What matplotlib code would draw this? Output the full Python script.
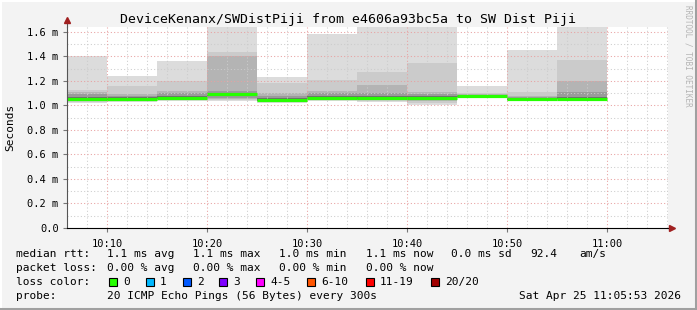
import matplotlib
matplotlib.use("Agg")
import matplotlib.pyplot as plt
from matplotlib.lines import Line2D

W, H = 697, 310

# minutes after 10:00, each block is a 5 minute step ending at the edge
block_start = [5, 10, 15, 20, 25, 30, 35, 40, 45, 50, 55]
median = [1.05, 1.05, 1.06, 1.095, 1.045, 1.06, 1.06, 1.06, 1.075, 1.05, 1.055]
# smoke layers, outer -> inner (ms)
upper = [
    [1.40, 1.13, 1.11, 1.09, 1.07],
    [1.24, 1.16, 1.09, 1.08, 1.065],
    [1.36, 1.20, 1.12, 1.10, 1.075],
    [1.64, 1.44, 1.40, 1.12, 1.105],
    [1.23, 1.18, 1.10, 1.08, 1.06],
    [1.58, 1.21, 1.12, 1.10, 1.075],
    [1.64, 1.27, 1.17, 1.10, 1.08],
    [1.64, 1.35, 1.11, 1.09, 1.075],
    [1.16, 1.10, 1.09, 1.085, 1.08],
    [1.45, 1.11, 1.08, 1.07, 1.06],
    [1.64, 1.37, 1.20, 1.11, 1.07],
]
lower = [
    [1.02, 1.03, 1.035, 1.04, 1.042],
    [1.03, 1.035, 1.04, 1.042, 1.045],
    [1.04, 1.045, 1.05, 1.052, 1.055],
    [1.04, 1.045, 1.05, 1.06, 1.075],
    [1.02, 1.03, 1.035, 1.038, 1.04],
    [1.04, 1.045, 1.05, 1.052, 1.055],
    [1.03, 1.04, 1.045, 1.048, 1.05],
    [1.00, 1.02, 1.04, 1.045, 1.05],
    [1.06, 1.062, 1.065, 1.066, 1.068],
    [1.04, 1.042, 1.044, 1.045, 1.046],
    [1.04, 1.045, 1.05, 1.051, 1.052],
]
smoke_colors = ["#dcdcdc", "#cbcbcb", "#b4b4b4", "#9a9a9a", "#6e6e6e"]

xticks = [10, 20, 30, 40, 50, 60]
xticklabels = ["10:10", "10:20", "10:30", "10:40", "10:50", "11:00"]
yticks = [0.0, 0.2, 0.4, 0.6, 0.8, 1.0, 1.2, 1.4, 1.6]

legend_rows = [
    ["median rtt:", "1.1 ms avg", "1.1 ms max", "1.0 ms min", "1.1 ms now", "0.0 ms sd", "92.4", "am/s"],
    ["packet loss:", "0.00 % avg", "0.00 % max", "0.00 % min", "0.00 % now"],
]
loss_labels = ["0", "1", "2", "3", "4-5", "6-10", "11-19", "20/20"]
loss_colors = ["#26ff00", "#00b8ff", "#0059ff", "#7e00ff", "#ff00ff", "#ff5500", "#ff0000", "#a10000"]

mono = "DejaVu Sans Mono"
bg = "#f3f3f3"

fig = plt.figure(figsize=(W / 100, H / 100), dpi=100, facecolor=bg)


def fx(px):
    return px / W


def fy(py):
    return 1 - py / H


ax = fig.add_axes([fx(67), fy(228), fx(668 - 67), (228 - 27) / H])
ax.set_facecolor("white")

for i, x0 in enumerate(block_start):
    for lo, hi, c in zip(lower[i], upper[i], smoke_colors):
        ax.fill_between([x0, x0 + 5], lo, hi, color=c, lw=0, zorder=1)
    ax.plot([x0, x0 + 5], [median[i], median[i]], color="#26ff00", lw=2.3,
            solid_capstyle="butt", zorder=4)

ax.set_xlim(6, 66.1)
ax.set_ylim(0, 1.64)

# grid like rrdtool: grey minor, reddish major, dotted, drawn over the smoke
for m in range(8, 67, 2):
    if m % 10:
        ax.axvline(m, color="#cccccc", lw=0.75, ls=(0, (1, 2.2)), zorder=2)
for v in [0.1, 0.3, 0.5, 0.7, 0.9, 1.1, 1.3, 1.5]:
    ax.axhline(v, color="#cccccc", lw=0.75, ls=(0, (1, 2.2)), zorder=2)
for m in xticks:
    ax.axvline(m, color="#e8a0a0", lw=0.75, ls=(0, (1, 2.2)), zorder=2)
for v in yticks[1:]:
    ax.axhline(v, color="#e8a0a0", lw=0.75, ls=(0, (1, 2.2)), zorder=2)

for s in ["top", "right"]:
    ax.spines[s].set_visible(False)
ax.spines["left"].set_color("#555555")
ax.spines["bottom"].set_color("black")
ax.spines["left"].set_zorder(5)
ax.spines["bottom"].set_zorder(5)

ax.set_xticks(xticks)
ax.set_xticklabels(xticklabels, fontfamily=mono, fontsize=7.5)
ax.set_yticks(yticks)
ax.set_yticklabels(["0.0" if v == 0 else f"{v:.1f} m" for v in yticks],
                   fontfamily=mono, fontsize=7.5)
ax.tick_params(axis="both", length=3, width=0.8, color="#777777", pad=3)
ax.tick_params(axis="x", pad=5)

# axis arrows
ax.plot([0, 0], [1.0, 1.035], transform=ax.transAxes, color="#555555", lw=0.8,
        clip_on=False, zorder=5)
ax.plot(0, 1.035, marker="^", ms=4, color="#a02020", transform=ax.transAxes,
        clip_on=False, zorder=6)
ax.plot([1.0, 1.007], [0, 0], transform=ax.transAxes, color="black", lw=0.8,
        clip_on=False, zorder=5)
ax.plot(1.007, 0, marker=">", ms=4, color="#a02020", transform=ax.transAxes,
        clip_on=False, zorder=6)

fig.text(fx(348), fy(19), "DeviceKenanx/SWDistPiji from e4606a93bc5a to SW Dist Piji",
         ha="center", va="center", fontfamily=mono, fontsize=9.5)
fig.text(fx(10), fy(127), "Seconds", rotation=90, ha="center", va="center",
         fontfamily=mono, fontsize=8)
fig.text(fx(688), fy(5), "RRDTOOL / TOBI OETIKER", rotation=270, ha="center", va="top",
         fontfamily=mono, fontsize=5.5, color="#b4b4b4")

col_x = [16, 107, 193, 279, 366, 451, 530, 579]
for r, row in enumerate(legend_rows):
    for j, t in enumerate(row):
        fig.text(fx(col_x[j]), fy(254 + 14 * r), t, ha="left", va="center",
                 fontfamily=mono, fontsize=8)

fig.text(fx(16), fy(282), "loss color:", ha="left", va="center", fontfamily=mono, fontsize=8)
box_x = [109, 146, 183, 219, 256, 307, 366, 431]
for bx, lab, c in zip(box_x, loss_labels, loss_colors):
    fig.patches.append(plt.Rectangle((fx(bx), fy(286)), fx(8), 8 / H, transform=fig.transFigure,
                                     facecolor=c, edgecolor="black", lw=0.8))
    fig.text(fx(bx + 14), fy(282), lab, ha="left", va="center", fontfamily=mono, fontsize=8)

fig.text(fx(16), fy(296), "probe:", ha="left", va="center", fontfamily=mono, fontsize=8)
fig.text(fx(107), fy(296), "20 ICMP Echo Pings (56 Bytes) every 300s", ha="left",
         va="center", fontfamily=mono, fontsize=8)
fig.text(fx(681), fy(296), "Sat Apr 25 11:05:53 2026", ha="right", va="center",
         fontfamily=mono, fontsize=8)

# frame: light top/left, dark bottom/right
fig.add_artist(Line2D([0, 1], [1 - 1 / H, 1 - 1 / H], transform=fig.transFigure, color="white", lw=1.5))
fig.add_artist(Line2D([1 / W, 1 / W], [0, 1], transform=fig.transFigure, color="white", lw=1.5))
fig.add_artist(Line2D([0, 1], [1.5 / H, 1.5 / H], transform=fig.transFigure, color="#a0a0a0", lw=2.2))
fig.add_artist(Line2D([1 - 1.5 / W, 1 - 1.5 / W], [0, 1], transform=fig.transFigure, color="#a0a0a0", lw=2.2))

fig.savefig("out.png", dpi=100, facecolor=bg)
